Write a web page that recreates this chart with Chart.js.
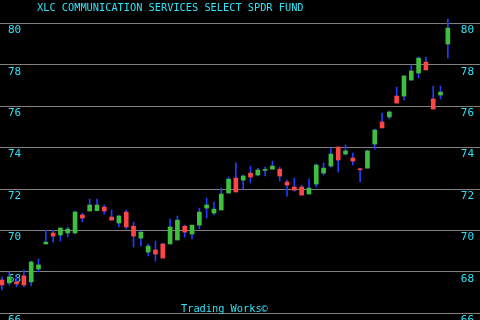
<!DOCTYPE html>
<html>
<head>
<meta charset="utf-8">
<script src="https://cdn.jsdelivr.net/npm/chart.js@4.4.1/dist/chart.umd.min.js"></script>
<style>
  html, body { margin: 0; padding: 0; background: #000; overflow: hidden; }
  #wrap { position: relative; width: 480px; height: 320px; }
  .txt { position: absolute; color: #2de3f5; font-family: "DejaVu Sans Mono", monospace; font-size: 10.3px; line-height: 12px; white-space: nowrap; }
  #title { left: 37px; top: 1px; }
  #credit { left: 181px; top: 302px; }
</style>
</head>
<body>
<div id="wrap">
  <canvas id="chart" width="480" height="320"></canvas>
  <div class="txt" id="title">XLC COMMUNICATION SERVICES SELECT SPDR FUND</div>
  <div class="txt" id="credit">Trading Works©</div>
</div>
<script>
// daily OHLC
const opens = [67.61, 67.47, 67.52, 67.81, 67.52, 68.14, 69.35, 69.88, 69.78, 69.88,
  69.88, 70.75, 70.94, 70.96, 71.13, 70.65, 70.36, 70.89, 70.21, 69.63,
  68.96, 69.06, 69.35, 69.35, 69.54, 70.21, 69.83, 70.26, 71.08, 70.84,
  70.99, 71.81, 72.53, 72.43, 72.77, 72.68, 72.90, 72.96, 72.96, 72.34,
  72.10, 72.10, 71.76, 72.24, 72.77, 73.11, 74.03, 73.69, 73.50, 72.96,
  73.01, 74.17, 75.24, 75.48, 76.49, 76.49, 77.26, 77.60, 78.13, 76.35,
  76.54, 79.00];
const highs = [67.76, 68.00, 67.76, 68.09, 68.53, 68.62, 70.02, 70.02, 70.12, 70.17,
  70.94, 70.84, 71.52, 71.52, 71.23, 70.99, 70.75, 70.99, 70.41, 69.97,
  69.35, 69.49, 69.39, 70.55, 70.70, 70.26, 70.26, 71.08, 71.57, 71.37,
  72.05, 72.58, 73.26, 72.68, 73.11, 73.01, 73.06, 73.35, 73.06, 72.43,
  72.53, 72.19, 72.48, 73.21, 73.26, 73.98, 74.03, 74.13, 73.74, 73.01,
  73.88, 74.90, 75.67, 75.77, 76.92, 77.46, 77.99, 78.37, 78.37, 76.97,
  76.97, 80.21];
const lows = [67.13, 67.37, 67.28, 67.28, 67.33, 68.00, 69.35, 69.44, 69.49, 69.68,
  69.83, 70.41, 70.94, 70.94, 70.79, 70.50, 70.17, 70.07, 69.20, 69.25,
  68.77, 68.53, 68.67, 69.35, 69.54, 69.68, 69.59, 70.07, 70.60, 70.75,
  70.99, 71.81, 71.86, 72.00, 72.29, 72.63, 72.63, 72.96, 72.39, 71.66,
  71.90, 71.71, 71.76, 72.10, 72.68, 73.06, 72.82, 73.64, 73.16, 72.34,
  73.01, 73.93, 74.95, 75.38, 76.15, 76.30, 77.26, 77.36, 77.75, 75.86,
  76.35, 78.32];
const closes = [67.37, 67.76, 67.42, 67.37, 68.48, 68.34, 69.44, 69.73, 70.12, 70.07,
  70.89, 70.60, 71.23, 71.23, 70.94, 70.50, 70.70, 70.17, 69.73, 69.92,
  69.25, 68.86, 68.67, 70.17, 70.50, 69.92, 70.26, 70.89, 71.23, 71.03,
  71.76, 72.48, 71.86, 72.63, 72.58, 72.92, 72.92, 73.11, 72.63, 72.19,
  71.95, 71.71, 72.05, 73.16, 73.01, 73.69, 73.40, 73.84, 73.35, 72.93,
  73.84, 74.85, 74.95, 75.72, 76.15, 77.46, 77.70, 78.32, 77.75, 75.86,
  76.68, 79.77];
const yTicks = [66, 68, 70, 72, 74, 76, 78, 80];

const upColor = "#3fbf3f";
const downColor = "#ff4646";
const wickColor = "#1f3dff";
const textColor = "#2de3f5";

const bodies = opens.map((o, i) => ({ x: i, y: [Math.min(o, closes[i]), Math.max(o, closes[i])] }));
const wicks = opens.map((o, i) => ({ x: i, y: [lows[i], highs[i]] }));
const bodyColors = opens.map((o, i) => closes[i] >= o ? upColor : downColor);

const tickFont = { family: "DejaVu Sans Mono", size: 11 };
const setTicks = (scale) => { scale.ticks = yTicks.map(v => ({ value: v })); };
// mirrored axes take no room at all
const noRoom = (s) => { s.width = 0; s.paddingTop = 0; s.paddingBottom = 0; };

const ctx = document.getElementById("chart").getContext("2d");
new Chart(ctx, {
  type: "bar",
  data: {
    datasets: [{
      data: bodies,
      backgroundColor: bodyColors,
      barThickness: 4,
      minBarLength: 1,
      grouped: false
    }, {
      data: wicks,
      backgroundColor: wickColor,
      barThickness: 1,
      grouped: false
    }]
  },
  options: {
    responsive: false,
    animation: false,
    layout: { padding: 0 },
    plugins: { legend: { display: false }, tooltip: { enabled: false } },
    scales: {
      x: { type: "linear", display: false, offset: false, min: -0.27, max: 65.4 },
      y: {
        position: "left",
        min: 65.68, max: 81.125,
        afterBuildTicks: setTicks,
        afterFit: noRoom,
        border: { display: false },
        grid: { color: "#808080", lineWidth: 1, drawTicks: false },
        ticks: { mirror: true, padding: 8, labelOffset: 7, color: textColor, font: tickFont }
      },
      y2: {
        position: "right",
        min: 65.68, max: 81.125,
        afterBuildTicks: setTicks,
        afterFit: noRoom,
        border: { display: false },
        grid: { display: false, drawTicks: false },
        ticks: { mirror: true, padding: -6, labelOffset: 7, color: textColor, font: tickFont }
      }
    }
  }
});
</script>
</body>
</html>
